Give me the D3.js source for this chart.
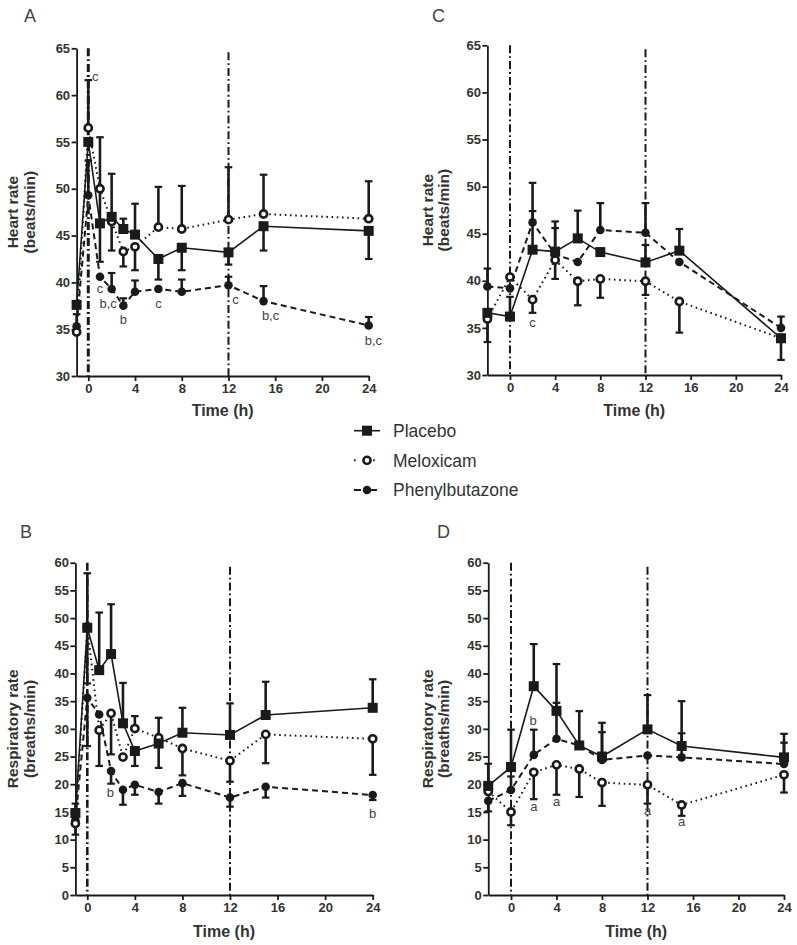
<!DOCTYPE html>
<html><head><meta charset="utf-8">
<script src="https://cdn.jsdelivr.net/npm/d3@7"></script>
<style>body{margin:0;background:#fff}svg{display:block}</style></head>
<body><svg id="c" width="797" height="945"></svg>
<script>
// ---------- DATA ----------
const timesAB = [-1, 0, 1, 2, 3, 4, 6, 8, 12, 15, 24];
const timesCD = [-2, 0, 2, 4, 6, 8, 12, 15, 24];
const xTicks = [0, 4, 8, 12, 16, 20, 24];
const hrTicks = [30, 35, 40, 45, 50, 55, 60, 65];
const rrTicks = [0, 5, 10, 15, 20, 25, 30, 35, 40, 45, 50, 55, 60];
const seriesNames = ["Placebo", "Meloxicam", "Phenylbutazone"];

// Panel A: heart rate
const A_placebo      = [37.6, 55.0, 46.3, 47.0, 45.7, 45.1, 42.5, 43.7, 43.2, 46.0, 45.5];
const A_placeboHi    = [null, null, 55.5, 51.6, 46.8, 48.4, null, null, null, null, null];
const A_placeboLo    = [null, null, 42.2, null, null, null, 40.3, 41.3, 41.9, 43.4, 42.5];
const A_meloxicam    = [34.7, 56.5, 50.0, 46.5, 43.3, 43.8, 45.9, 45.7, 46.7, 47.3, 46.8];
const A_meloxicamHi  = [null, 61.6, null, null, null, null, 50.2, 50.3, 52.3, 51.5, 50.8];
const A_meloxicamLo  = [null, null, null, 43.4, 41.7, 41.3, null, null, null, null, null];
const A_phenyl       = [35.3, 49.3, 40.6, 39.3, 37.5, 39.0, 39.3, 39.0, 39.7, 38.0, 35.4];
const A_phenylHi     = [36.6, 53.0, null, 41.0, 38.3, 40.2, null, 40.3, 40.6, 39.6, 36.3];
const A_phenylLo     = [null, null, null, null, null, null, null, null, null, null, null];
const A_labels = [["c",0.6,62.0],["c",1.0,39.4],["b,c",1.7,37.8],["b",3.0,36.05],["c",6.0,37.8],["c",12.6,38.2],["b,c",15.6,36.5],["b,c",24.4,33.85]];

// Panel C: heart rate
const C_placebo      = [36.6, 36.2, 43.3, 43.1, 44.5, 43.05, 41.95, 43.2, 33.9];
const C_placeboHi    = [null, 38.3, 50.4, 45.6, 47.45, null, 43.8, 45.5, null];
const C_placeboLo    = [null, null, null, null, null, null, null, null, 31.6];
const C_meloxicam    = [35.95, 40.4, 38.0, 42.2, 39.95, 40.2, 39.95, 37.8, 33.9];
const C_meloxicamHi  = [null, null, null, null, null, null, null, null, null];
const C_meloxicamLo  = [33.5, null, 36.6, 40.2, 37.4, 38.2, 38.5, 34.5, null];
const C_phenyl       = [39.4, 39.2, 46.2, 42.8, 42.0, 45.4, 45.1, 42.0, 35.0];
const C_phenylHi     = [41.3, null, 47.4, 46.3, null, 48.25, 48.25, null, 36.2];
const C_phenylLo     = [null, null, null, null, null, null, null, null, null];
const C_labels = [["c",2.0,35.55]];

// Panel B: respiratory rate
const B_placebo      = [14.8, 48.25, 40.6, 43.5, 31.0, 26.0, 27.35, 29.3, 28.9, 32.5, 33.8];
const B_placeboHi    = [16.5, 58.1, 51.0, 52.5, 38.3, null, null, 33.8, 34.6, 38.5, 38.95];
const B_placeboLo    = [null, 38.2, null, null, null, 23.3, 22.95, null, null, null, null];
const B_meloxicam    = [12.9, 48.4, 29.75, 32.8, 24.9, 30.05, 28.4, 26.45, 24.25, 29.0, 28.2];
const B_meloxicamHi  = [null, null, null, null, null, 32.3, 32.0, null, null, null, null];
const B_meloxicamLo  = [10.9, null, 23.3, 25.4, null, null, null, 21.6, 20.45, 23.8, 21.7];
const B_phenyl       = [13.5, 35.6, 32.6, 22.4, 19.0, 19.9, 18.6, 20.2, 17.6, 19.55, 18.05];
const B_phenylHi     = [null, null, null, null, null, null, null, null, null, null, null];
const B_phenylLo     = [null, 26.9, null, 20.1, 16.3, 18.1, 16.5, 17.9, 15.95, 17.6, 17.15];
const B_labels = [["b",1.95,18.5],["b",24,14.75]];

// Panel D: respiratory rate
const D_placebo      = [19.7, 23.1, 37.7, 33.25, 27.0, 25.0, 29.9, 26.9, 24.85];
const D_placeboHi    = [23.7, 29.85, 45.3, 41.7, 33.2, 31.1, 36.1, 35.0, 29.1];
const D_placeboLo    = [null, null, null, null, null, null, null, null, null];
const D_meloxicam    = [18.7, 15.0, 22.15, 23.5, 22.75, 20.3, 19.9, 16.25, 21.7];
const D_meloxicamHi  = [null, null, null, null, null, null, null, null, null];
const D_meloxicamLo  = [null, 12.6, 17.3, 18.1, 17.7, 16.1, 16.5, 14.3, 18.5];
const D_phenyl       = [17.0, 18.95, 25.3, 28.2, 27.0, 24.4, 25.2, 24.85, 23.65];
const D_phenylHi     = [null, 21.4, 29.85, 34.7, null, 29.4, null, 29.2, 27.5];
const D_phenylLo     = [15.1, null, null, null, null, null, null, null, null];
const D_labels = [["b",1.95,31.5],["a",2.0,15.95],["a",4.0,16.85],["a",12.0,15.35],["a",15.0,13.2]];

// ---------- DRAW ----------
const svg = d3.select("#c");
svg.append("rect").attr("width",797).attr("height",945).attr("fill","#fff");
const INK = "#1a1a1a", TXT = "#333";
const styles = {
  Placebo: {dash: null, w: 1.6, marker: "square"},
  Meloxicam: {dash: "1.6,3.6", w: 2, marker: "open"},
  Phenylbutazone: {dash: "6,4", w: 2, marker: "filled"}
};

function marker(g, kind, cx, cy) {
  if (kind === "square") g.append("rect").attr("x",cx-5).attr("y",cy-5).attr("width",10).attr("height",10).attr("fill",INK);
  else if (kind === "open") g.append("circle").attr("cx",cx).attr("cy",cy).attr("r",3.6).attr("fill","#fff").attr("stroke",INK).attr("stroke-width",2.6);
  else g.append("circle").attr("cx",cx).attr("cy",cy).attr("r",4.3).attr("fill",INK);
}

function drawPanel(p) {
  const x = d3.scaleLinear().domain([p.times[0], 24]).range(p.xr);
  const y = d3.scaleLinear().domain(p.yd).range(p.yr);
  const g = svg.append("g");
  const yMax = p.yd[1], yMin = p.yd[0];

  // reference dash-dot lines at 0 h and 12 h
  [[0, yMax, p.refW0], [12, yMax - (yMax - yMin) * 0.012, 2]].forEach(([t, top, w]) => {
    g.append("line").attr("x1",x(t)).attr("x2",x(t)).attr("y1",y(top)).attr("y2",y(yMin))
      .attr("stroke",INK).attr("stroke-width",w).attr("stroke-dasharray","8,3,1.8,3");
  });

  // axes
  const xa = d3.axisBottom(x).tickValues(xTicks).tickSize(5).tickSizeOuter(0).tickPadding(3);
  const ya = d3.axisLeft(y).tickValues(p.yTicks).tickSize(5).tickSizeOuter(0).tickPadding(1.5);
  const gx = g.append("g").attr("transform",`translate(0,${p.yr[0]})`).call(xa);
  const gy = g.append("g").attr("transform",`translate(${p.xr[0]},0)`).call(ya);
  [gx, gy].forEach(a => {
    a.selectAll("path,line").attr("stroke",INK).attr("stroke-width",1.8);
    a.selectAll("text").attr("font-family","Liberation Sans, Arial, sans-serif").attr("font-weight","bold")
      .attr("font-size",13).attr("fill",TXT);
  });

  // series lines
  const line = d3.line().defined(d => d[1] != null).x(d => x(d[0])).y(d => y(d[1]));
  p.series.forEach(s => {
    const st = styles[s.name];
    g.append("path").datum(p.times.map((t,i) => [t, s.mean[i]]))
      .attr("d", line).attr("fill","none").attr("stroke",INK).attr("stroke-width",st.w)
      .attr("stroke-dasharray", st.dash);
  });
  // error bars
  p.series.forEach(s => {
    p.times.forEach((t,i) => {
      [s.hi[i], s.lo[i]].forEach(v => {
        if (v == null) return;
        g.append("line").attr("x1",x(t)).attr("x2",x(t)).attr("y1",y(s.mean[i])).attr("y2",y(v))
          .attr("stroke",INK).attr("stroke-width",2.6);
        g.append("line").attr("x1",x(t)-3.8).attr("x2",x(t)+3.8).attr("y1",y(v)).attr("y2",y(v))
          .attr("stroke",INK).attr("stroke-width",2.2);
      });
    });
  });
  // markers
  p.series.slice().reverse().forEach(s => {
    const st = styles[s.name];
    p.times.forEach((t,i) => marker(g, st.marker, x(t), y(s.mean[i])));
  });
  // significance letters
  p.labels.forEach(([s,t,v]) => {
    g.append("text").attr("x",x(t)).attr("y",y(v)).attr("dy","0.35em").attr("text-anchor","middle")
      .attr("font-family","Liberation Sans, Arial, sans-serif").attr("font-size",13).attr("fill","#444").text(s);
  });

  // axis titles
  const cy = (p.yr[0] + p.yr[1]) / 2;
  p.ytitle.forEach((txt, k) => {
    g.append("text").attr("transform",`translate(${p.ytx[k]},${cy}) rotate(-90)`).attr("text-anchor","middle")
      .attr("dy","0.35em").attr("font-family","Liberation Sans, Arial, sans-serif").attr("font-weight","bold")
      .attr("font-size",15.5).attr("fill",TXT).text(txt);
  });
  g.append("text").attr("x",(p.xr[0]+p.xr[1])/2).attr("y",p.xty).attr("text-anchor","middle").attr("dy","0.35em")
    .attr("font-family","Liberation Sans, Arial, sans-serif").attr("font-weight","bold").attr("font-size",16)
    .attr("fill",TXT).text("Time (h)");
  // panel letter
  g.append("text").attr("x",p.letter[1]).attr("y",p.letter[2]).attr("font-family","Liberation Sans, Arial, sans-serif")
    .attr("font-size",18).attr("fill","#444").text(p.letter[0]);
}

function S(name, mean, hi, lo) { return {name, mean, hi, lo}; }

drawPanel({times: timesAB, yd: [30, 65], yTicks: hrTicks, xr: [76.6, 368.7], yr: [376, 48.3], refW0: 3,
  series: [S("Placebo",A_placebo,A_placeboHi,A_placeboLo), S("Meloxicam",A_meloxicam,A_meloxicamHi,A_meloxicamLo), S("Phenylbutazone",A_phenyl,A_phenylHi,A_phenylLo)],
  labels: A_labels, ytitle: ["Heart rate", "(beats/min)"], ytx: [13, 30], xty: 410, letter: ["A", 24, 22]});
drawPanel({times: timesCD, yd: [30, 65], yTicks: hrTicks, xr: [487.4, 781], yr: [375, 45.3], refW0: 2,
  series: [S("Placebo",C_placebo,C_placeboHi,C_placeboLo), S("Meloxicam",C_meloxicam,C_meloxicamHi,C_meloxicamLo), S("Phenylbutazone",C_phenyl,C_phenylHi,C_phenylLo)],
  labels: C_labels, ytitle: ["Heart rate", "(beats/min)"], ytx: [427.5, 444], xty: 410, letter: ["C", 432, 22]});
drawPanel({times: timesAB, yd: [0, 60], yTicks: rrTicks, xr: [75.4, 372.7], yr: [895, 562.7], refW0: 2.6,
  series: [S("Placebo",B_placebo,B_placeboHi,B_placeboLo), S("Meloxicam",B_meloxicam,B_meloxicamHi,B_meloxicamLo), S("Phenylbutazone",B_phenyl,B_phenylHi,B_phenylLo)],
  labels: B_labels, ytitle: ["Respiratory rate", "(breaths/min)"], ytx: [12.5, 29.5], xty: 931, letter: ["B", 20, 538]});
drawPanel({times: timesCD, yd: [0, 60], yTicks: rrTicks, xr: [488.25, 784], yr: [895, 562.7], refW0: 2,
  series: [S("Placebo",D_placebo,D_placeboHi,D_placeboLo), S("Meloxicam",D_meloxicam,D_meloxicamHi,D_meloxicamLo), S("Phenylbutazone",D_phenyl,D_phenylHi,D_phenylLo)],
  labels: D_labels, ytitle: ["Respiratory rate", "(breaths/min)"], ytx: [427.5, 444], xty: 931, letter: ["D", 437, 538]});

// ---------- LEGEND ----------
const lg = svg.append("g");
const legY = d3.scalePoint().domain(seriesNames).range([430.7, 490]);
seriesNames.forEach(n => {
  const st = styles[n], yy = legY(n);
  lg.append("line").attr("x1",354).attr("x2",380).attr("y1",yy).attr("y2",yy).attr("stroke",INK)
    .attr("stroke-width",st.w).attr("stroke-dasharray", st.dash ? (n === "Meloxicam" ? "1.6,8" : "7,9") : null);
  marker(lg, st.marker, 367, yy);
  lg.append("text").attr("x",393).attr("y",yy).attr("dy","0.36em").attr("font-family","Liberation Sans, Arial, sans-serif")
    .attr("font-size",17.5).attr("fill",TXT).text(n);
});
</script></body></html>
